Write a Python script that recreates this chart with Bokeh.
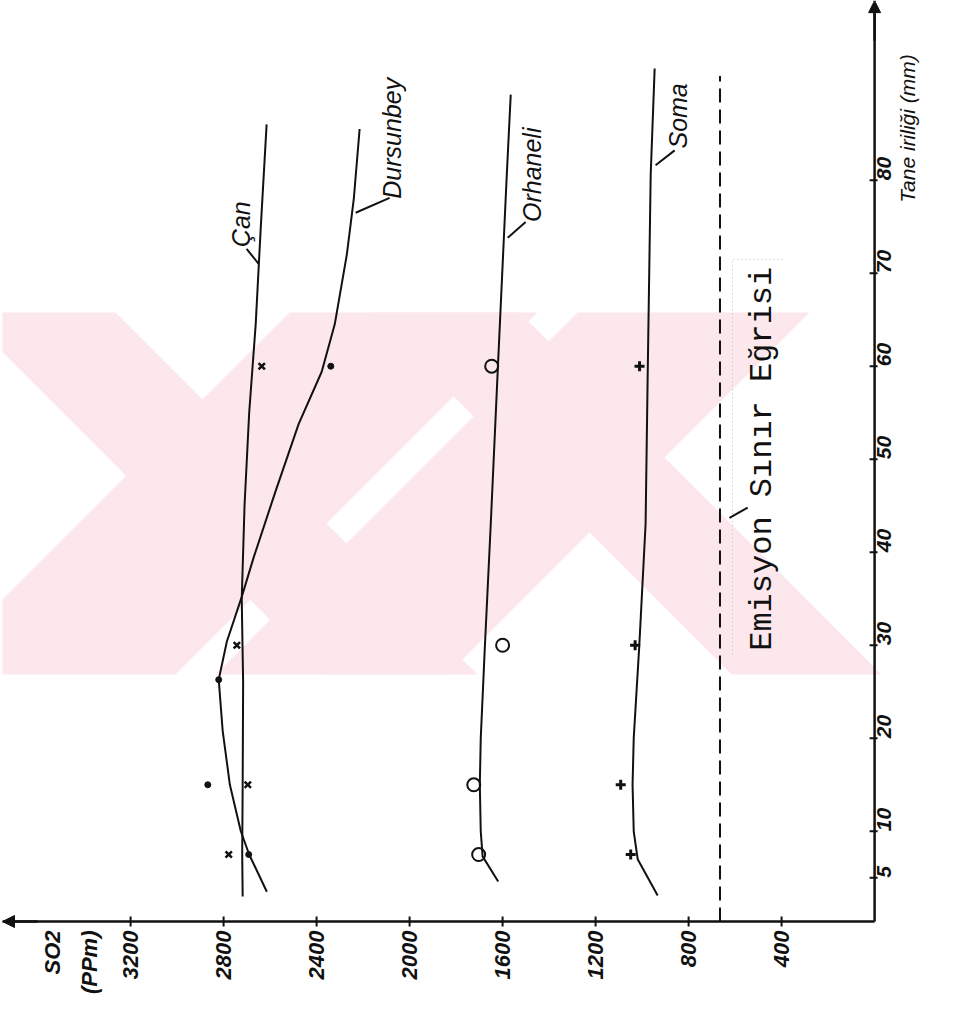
import math
from bokeh.plotting import figure
from bokeh.models import Range1d, LinearAxis, FixedTicker, Arrow, NormalHead
from bokeh.core.properties import value
from bokeh.embed import file_html
from bokeh.resources import INLINE

# ---------------- data ----------------
so2_ticks = [400, 800, 1200, 1600, 2000, 2400, 2800, 3200]
size_ticks = [5, 10, 20, 30, 40, 50, 60, 70, 80]

# measured points (particle size mm, SO2 ppm)
can_pt_size = [7.5, 15, 30, 60]
can_pt_so2 = [2778, 2696, 2743, 2636]
dur_pt_size = [7.5, 15, 26.3, 60]
dur_pt_so2 = [2692, 2868, 2821, 2339]
orh_pt_size = [7.5, 15, 30, 60]
orh_pt_so2 = [1703, 1724, 1600, 1647]
soma_pt_size = [7.5, 15, 30, 60]
soma_pt_so2 = [1049, 1092, 1030, 1011]

# hand drawn fitted curves
can_size = [3.0, 7.5, 15, 26, 35, 45, 55, 64.5, 75, 86]
can_so2 = [2718, 2720, 2718, 2716, 2722, 2710, 2690, 2662, 2640, 2615]
dur_size = [3.5, 7.5, 10, 15, 20.8, 26.3, 30.4, 35.2, 39.5, 46.6, 53.8, 59.4, 64.5, 72, 78, 85.5]
dur_so2 = [2614, 2690, 2726, 2773, 2804, 2821, 2786, 2722, 2670, 2576, 2477, 2378, 2322, 2270, 2240, 2215]
orh_size = [4.6, 7.3, 10, 15, 20, 30, 43, 59.5, 80.6, 89.2]
orh_so2 = [1619, 1686, 1694, 1698, 1694, 1676, 1651, 1621, 1582, 1565]
soma_size = [3.1, 7, 10, 15, 20, 30, 43, 59, 80.6, 92]
soma_so2 = [933, 1019, 1036, 1041, 1036, 1012, 985, 976, 963, 946]

limit_so2 = 665
limit_size = [0.3, 91.2]

series_names = ["Çan", "Dursunbey", "Orhaneli", "Soma"]
so2_title = ["SO2", "(PPm)"]
so2_title_pos = [3535, 3376]
size_title = "Tane   iriliği   (mm)"
size_title_pos = 84.1
limit_title = "Emisyon Sınır Eğrisi"

INK = "#111111"
FONT = "Liberation Sans"
PINK = "#fce8ec"

# axis origin (the drawn axes cross here)
X0, Y0 = 0, 0.3
PX = 400 / 93.0      # ppm per pixel
PY = 1 / 9.3         # mm per pixel

p = figure(width=937, height=999, x_range=Range1d(3751, -34), y_range=Range1d(-0.56, 99.1),
           output_backend="svg", toolbar_location=None,
           x_axis_location=None, y_axis_location=None,
           min_border_left=2, min_border_top=2, min_border_right=55, min_border_bottom=70)
p.outline_line_color = None
p.grid.visible = False
p.background_fill_color = "white"

# ---- faint watermark (diagonal bands) ----
def band(top_a, top_b, slope):
    # page px -> data; bands run between page y 320 and 682
    def cx(x):
        return (882 - x) * PX
    def cy(y):
        return (929 - y) * PY + 0.3
    d = 362 * slope
    xs = [cx(top_a), cx(top_b), cx(top_b + d), cx(top_a + d)]
    ys = [cy(320), cy(320), cy(682), cy(682)]
    return xs, ys

wm = [band(297, 545, -1), band(585, 817, -1), band(-30, 123, 1), band(377, 527, 1)]
p.patches([w[0] for w in wm], [w[1] for w in wm], fill_color=PINK, line_color=None)

# ---- axis labels via Bokeh axes (lines/ticks drawn as glyphs) ----
xa = LinearAxis(ticker=FixedTicker(ticks=so2_ticks + so2_title_pos),
                major_label_overrides={so2_title_pos[0]: so2_title[0], so2_title_pos[1]: so2_title[1]})
xa.major_label_orientation = math.pi / 2
xa.major_tick_in = 0
xa.major_tick_out = 0
xa.major_tick_line_color = None
xa.minor_tick_line_color = None
xa.axis_line_color = None
xa.major_label_text_font = FONT
xa.major_label_text_font_style = "bold italic"
xa.major_label_text_font_size = "22px"
xa.major_label_text_color = INK
xa.major_label_standoff = 1
p.add_layout(xa, "below")

ya = LinearAxis(ticker=FixedTicker(ticks=size_ticks))
ya.major_label_orientation = math.pi / 2
ya.major_tick_in = 0
ya.major_tick_out = 0
ya.major_tick_line_color = None
ya.minor_tick_line_color = None
ya.axis_line_color = None
ya.major_label_text_font = FONT
ya.major_label_text_font_style = "bold italic"
ya.major_label_text_font_size = "21px"
ya.major_label_text_color = INK
ya.major_label_standoff = 2
p.add_layout(ya, "right")

ya2 = LinearAxis(ticker=FixedTicker(ticks=[size_title_pos]),
                 major_label_overrides={size_title_pos: size_title})
ya2.major_label_orientation = math.pi / 2
ya2.major_tick_in = 0
ya2.major_tick_out = 0
ya2.major_tick_line_color = None
ya2.minor_tick_line_color = None
ya2.axis_line_color = None
ya2.major_label_text_font = FONT
ya2.major_label_text_font_style = "italic"
ya2.major_label_text_font_size = "21px"
ya2.major_label_text_color = INK
ya2.major_label_standoff = 6
p.add_layout(ya2, "right")

# axis lines
p.line([3751, X0], [Y0, Y0], line_color=INK, line_width=2.5)
p.line([X0, X0], [Y0, 99.1], line_color=INK, line_width=2.5)
# tick marks crossing the axes
p.segment(x0=so2_ticks, y0=[Y0 - 5 * PY] * len(so2_ticks),
          x1=so2_ticks, y1=[Y0 + 5 * PY] * len(so2_ticks), line_color=INK, line_width=2)
p.segment(x0=[X0 - 3 * PX] * len(size_ticks), y0=size_ticks,
          x1=[X0 + 5 * PX] * len(size_ticks), y1=size_ticks, line_color=INK, line_width=2)

# axis arrows
p.add_layout(Arrow(end=NormalHead(size=12, fill_color=INK, line_color=INK),
                   x_start=3600, y_start=Y0, x_end=3751, y_end=Y0, line_width=2.5, line_color=INK))
p.add_layout(Arrow(end=NormalHead(size=12, fill_color=INK, line_color=INK),
                   x_start=X0, y_start=95, x_end=X0, y_end=99.3, line_width=2.5, line_color=INK))

# curves
for xs, ys in [(can_so2, can_size), (dur_so2, dur_size), (orh_so2, orh_size), (soma_so2, soma_size)]:
    p.line(xs, ys, line_color=INK, line_width=2)

# emission limit
p.line([limit_so2, limit_so2], limit_size, line_color=INK, line_width=2, line_dash="14 7")

# points
p.scatter(can_pt_so2, can_pt_size, marker="x", size=9, line_color=INK, line_width=2.5)
p.scatter(dur_pt_so2, dur_pt_size, marker="circle", size=6, fill_color=INK, line_color=INK)
p.scatter(orh_pt_so2, orh_pt_size, marker="circle", size=13, fill_color=None, line_color=INK, line_width=2)
p.scatter(soma_pt_so2, soma_pt_size, marker="cross", size=10, line_color=INK, line_width=3)

# leader lines
p.segment(x0=[2649, 2232, 1578, 942, 624], y0=[71.0, 76.5, 73.8, 81.6, 43.7],
          x1=[2701, 2086, 1501, 860, 546], y1=[72.6, 78.1, 75.5, 83.2, 44.8],
          line_color=INK, line_width=2)

# series labels
p.text(x=[2727, 2077, 1475, 847], y=[72.8, 78.0, 75.5, 83.4], text=series_names,
       angle=math.pi / 2, text_align="left", text_baseline="middle",
       text_font=value(FONT), text_font_style="italic", text_font_size="25px", text_color=INK)

# faint box around pasted label
p.line([396, 611, 611], [71.5, 71.5, 28.9], line_color="#bbbbbb", line_width=1, line_dash="1 3")
p.text(x=[482], y=[29.4], text=[limit_title], angle=math.pi / 2,
       text_align="left", text_baseline="middle", text_font=value("Liberation Mono"),
       text_font_size="32px", text_color=INK)

open("out.html", "w").write(file_html(p, INLINE))
